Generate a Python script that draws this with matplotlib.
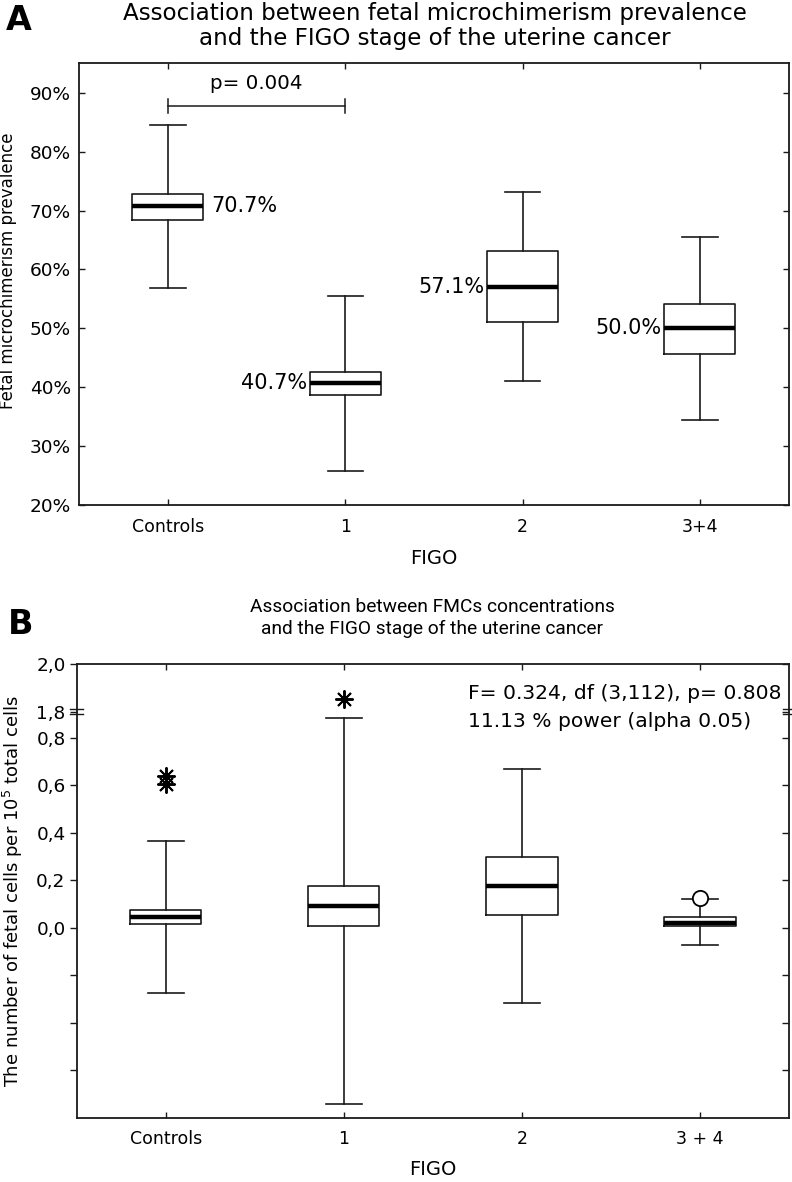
import numpy as np
import matplotlib
matplotlib.use("Agg")
import matplotlib.pyplot as plt
from matplotlib.transforms import ScaledTranslation

plt.rcParams['font.family'] = ['DejaVu Sans']

# ---------------- data ----------------
groups_a = ["Controls", "1", "2", "3+4"]
med_a = [70.7, 40.7, 57.1, 50.0]
q1_a = [68.4, 38.7, 51.0, 45.7]
q3_a = [72.8, 42.65, 63.1, 54.1]
lo_a = [56.8, 25.8, 41.1, 34.4]
hi_a = [84.5, 55.5, 73.2, 65.5]
med_labels_a = ["70.7%", "40.7%", "57.1%", "50.0%"]
p_text_a = "p= 0.004"
p_level_a = 87.7

groups_b = ["Controls", "1", "2", "3 + 4"]
med_b = [0.045, 0.09, 0.177, 0.021]
q1_b = [0.018, 0.007, 0.053, 0.006]
q3_b = [0.076, 0.176, 0.30, 0.044]
lo_b = [-0.275, -0.74, -0.316, -0.073]
hi_b = [0.366, 1.55, 0.67, 0.122]
star_outliers_b = {0: [0.605, 0.64], 1: [1.853]}
circle_outliers_b = {3: [0.124]}
yticks_b = [-0.6, -0.4, -0.2, 0.0, 0.2, 0.4, 0.6, 0.8, 1.8, 2.0]
yticklabels_b = ["", "", "", "0,0", "0,2", "0,4", "0,6", "0,8", "1,8", "2,0"]

W, H = 792, 1182
fig = plt.figure(figsize=(W / 100, H / 100), dpi=100)

def fr(x0, y0, x1, y1):
    return [x0 / W, 1 - y1 / H, (x1 - x0) / W, (y1 - y0) / H]

edge = "#1a1a1a"
box_kw = dict(widths=0.4, capwidths=0.2, showfliers=False, patch_artist=False,
              boxprops=dict(color=edge, linewidth=1.2),
              whiskerprops=dict(color=edge, linewidth=1.2),
              capprops=dict(color=edge, linewidth=1.2),
              medianprops=dict(color="black", linewidth=3.2, solid_capstyle="butt"))

def stats(meds, q1s, q3s, los, his, labels):
    return [dict(med=m, q1=a, q3=b, whislo=l, whishi=h, label=lab)
            for m, a, b, l, h, lab in zip(meds, q1s, q3s, los, his, labels)]

# ---------------- Panel A ----------------
axA = fig.add_axes(fr(79.3, 63.3, 788.5, 505))
axA.bxp(stats(med_a, q1_a, q3_a, lo_a, hi_a, groups_a), positions=range(4), **box_kw)
axA.set_xlim(-0.5, 3.5)
axA.set_ylim(20, 95)
axA.set_yticks(np.arange(20, 91, 10))
axA.set_yticklabels([f"{v}%" for v in range(20, 91, 10)], fontsize=13.3)
axA.set_xticks(range(4))
axA.set_xticklabels(groups_a, fontsize=12.5)
axA.tick_params(axis="both", direction="in", length=4, width=1, top=True, right=True, color=edge)
axA.tick_params(axis="y", pad=6)
axA.tick_params(axis="x", pad=9)
axA.set_xlabel("FIGO", fontsize=14, labelpad=10)
axA.set_ylabel("Fetal microchimerism prevalence", fontsize=12, labelpad=6)
axA.yaxis.set_label_coords(-0.088, 0.53)
for s in axA.spines.values():
    s.set_linewidth(1.3)
    s.set_color(edge)

for i, (m, lab) in enumerate(zip(med_a, med_labels_a)):
    if i == 0:
        axA.text(i + 0.245, m, lab, ha="left", va="center", fontsize=15)
    else:
        axA.text(i - 0.215, m, lab, ha="right", va="center", fontsize=15)

axA.plot([0, 1], [p_level_a, p_level_a], color=edge, lw=1.1)
for x in (0, 1):
    axA.plot([x, x], [p_level_a - 1.2, p_level_a + 1.2], color=edge, lw=1.1)
axA.text(0.5, p_level_a + 2.2, p_text_a, ha="center", va="bottom", fontsize=14.3)

fig.text(435 / W, 1 - 26 / H,
         "Association between fetal microchimerism prevalence\nand the FIGO stage of the uterine cancer",
         ha="center", va="center", fontsize=16.6, linespacing=1.12)
fig.text(6 / W, 1 - 20 / H, "A", ha="left", va="center", fontsize=24, fontweight="bold")

# ---------------- Panel B ----------------
def fwd(y):
    y = np.asarray(y, dtype=float)
    return np.where(y <= 0.8, y, np.where(y >= 1.8, y - 0.89, 0.8 + (y - 0.8) * 0.11))

def inv(u):
    u = np.asarray(u, dtype=float)
    return np.where(u <= 0.8, u, np.where(u >= 0.91, u + 0.89, 0.8 + (u - 0.8) / 0.11))

axB = fig.add_axes(fr(76.7, 664, 789, 1118))
axB.set_yscale("function", functions=(fwd, inv))
axB.bxp(stats(med_b, q1_b, q3_b, lo_b, hi_b, groups_b), positions=range(4), **box_kw)
for i, vals in star_outliers_b.items():
    axB.plot([i] * len(vals), vals, linestyle="none", marker=(8, 2, 0),
             markersize=13, markeredgewidth=1.4, color="black")
for i, vals in circle_outliers_b.items():
    axB.plot([i] * len(vals), vals, linestyle="none", marker="o",
             markersize=11, markeredgewidth=1.3, markerfacecolor="white",
             markeredgecolor="black", zorder=5)
axB.set_xlim(-0.5, 3.5)
axB.set_ylim(-0.8, 2.0)
axB.set_yticks(yticks_b)
axB.set_yticklabels(yticklabels_b, fontsize=13.3)
axB.yaxis.set_minor_locator(matplotlib.ticker.NullLocator())
axB.set_xticks(range(4))
axB.set_xticklabels(groups_b, fontsize=12.5)
axB.tick_params(axis="x", direction="in", length=4, width=1, top=True, color=edge, pad=9)
axB.tick_params(axis="y", which="both", direction="out", length=5, width=1, color=edge, pad=3)
axB.tick_params(axis="y", right=True)
for t in axB.yaxis.get_major_ticks():
    t.tick2line.set_marker(matplotlib.lines.TICKLEFT)
axB.set_xlabel("FIGO", fontsize=14, labelpad=8)
axB.set_ylabel("The number of fetal cells per 10$^5$ total cells", fontsize=13, labelpad=8)
for s in axB.spines.values():
    s.set_linewidth(1.3)
    s.set_color(edge)

ytr = axB.get_yaxis_transform()
for xa in (0.0, 1.0):
    for dy in (-2.0, 2.0):
        tr = ytr + ScaledTranslation(0, dy / 72, fig.dpi_scale_trans)
        axB.plot([xa - 0.009, xa + 0.009], [1.8, 1.8], transform=tr, color=edge,
                 lw=1.0, clip_on=False)

axB.text(0.55, 0.957, "F= 0.324, df (3,112), p= 0.808\n11.13 % power (alpha 0.05)",
         transform=axB.transAxes, ha="left", va="top", fontsize=14.6, linespacing=1.6)

fig.text(432 / W, 1 - 618 / H,
         "Association between FMCs concentrations\nand the FIGO stage of the uterine cancer",
         ha="center", va="center", fontsize=13.8, linespacing=1.3,
         family=["Roboto", "DejaVu Sans"])
fig.text(8 / W, 1 - 624 / H, "B", ha="left", va="center", fontsize=24, fontweight="bold")

fig.savefig("out.png", dpi=100)
